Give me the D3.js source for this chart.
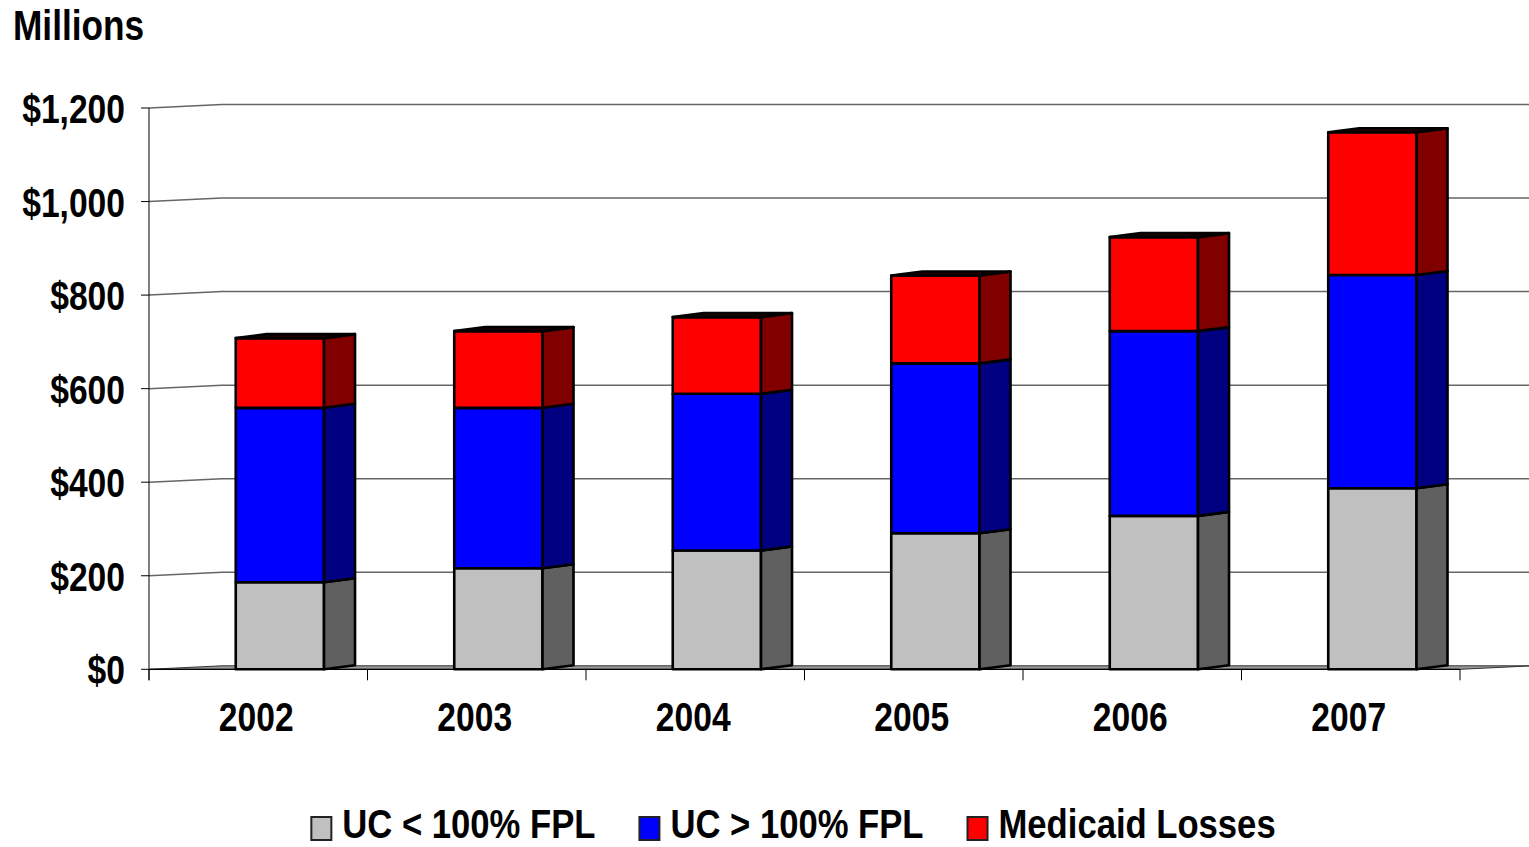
<!DOCTYPE html>
<html>
<head>
<meta charset="utf-8">
<script src="https://cdn.jsdelivr.net/npm/d3@7"></script>
<style>
  body { margin: 0; background: #fff; }
  text { font-family: "Liberation Sans", Arial, sans-serif; font-weight: bold; fill: #000; }
</style>
</head>
<body>
<svg id="chart" width="1529" height="847"></svg>
<script>
const years = ['2002', '2003', '2004', '2005', '2006', '2007'];
const ucBelow = [186, 216, 254, 291, 328, 387];
const ucAbove = [373, 343, 335, 363, 395, 456];
const medicaid = [149, 164, 164, 188, 201, 305];
const seriesNames = ['UC < 100% FPL', 'UC > 100% FPL', 'Medicaid Losses'];
const yTicks = [0, 200, 400, 600, 800, 1000, 1200];

const front = ['#c0c0c0', '#0000ff', '#ff0000'];
const side = ['#606060', '#000080', '#800000'];

const svg = d3.select('#chart');
const narrow = 0.82; // squeeze to look like Arial Narrow
const fontSize = 41;

// 3D offsets
const wallDx = 73, wallDy = -3.5;
const barDx = 31, barDy = -4;

const x = d3.scaleBand().domain(years).range([149, 1460]).padding(0);
const y = d3.scaleLinear().domain([0, 1200]).range([669.3, 108]);

function label(g, txt, px, py, anchor, size, sx) {
  return g.append('text')
    .attr('transform', `translate(${px},${py}) scale(${sx || narrow},1)`)
    .attr('text-anchor', anchor)
    .style('font-size', (size || fontSize) + 'px')
    .text(txt);
}

// floor
const x0 = x.range()[0], x1 = x.range()[1];
svg.append('path')
  .attr('d', `M${x0},${y(0)}L${x1},${y(0)}L${x1 + wallDx},${y(0) + wallDy}L${x0 + wallDx},${y(0) + wallDy}Z`)
  .attr('fill', '#9a9a9a')
  .attr('stroke', '#333')
  .attr('stroke-width', 1);

// gridlines
const grid = svg.append('g');
yTicks.forEach(t => {
  if (t === 0) return;
  grid.append('path')
    .attr('d', `M${x0},${y(t)}L${x0 + wallDx},${y(t) + wallDy}L1529,${y(t) + wallDy}`)
    .attr('fill', 'none')
    .attr('stroke', '#666')
    .attr('stroke-width', 1.5);
});

// axes
svg.append('line')
  .attr('x1', x0).attr('x2', x0)
  .attr('y1', y(1200)).attr('y2', y(0) + 11)
  .attr('stroke', '#000').attr('stroke-width', 1);
svg.append('line')
  .attr('x1', x0).attr('x2', x1)
  .attr('y1', y(0)).attr('y2', y(0))
  .attr('stroke', '#000').attr('stroke-width', 1.2);

yTicks.forEach(t => {
  svg.append('line')
    .attr('x1', x0 - 8).attr('x2', x0)
    .attr('y1', y(t)).attr('y2', y(t))
    .attr('stroke', '#000').attr('stroke-width', 1);
  label(svg, '$' + d3.format(',')(t), 125, y(t) + 15, 'end');
});

years.concat(['end']).forEach((yr, i) => {
  const px = x0 + i * x.bandwidth();
  svg.append('line')
    .attr('x1', px).attr('x2', px)
    .attr('y1', y(0)).attr('y2', y(0) + 11)
    .attr('stroke', '#000').attr('stroke-width', 1);
});

years.forEach(yr => {
  label(svg, yr, x(yr) + x.bandwidth() / 2 - 2, 731, 'middle');
});

label(svg, 'Millions', 13, 40, 'start', 43);

// stacked 3D bars
const rows = years.map((yr, i) => ({ year: yr, s0: ucBelow[i], s1: ucAbove[i], s2: medicaid[i] }));
const stack = d3.stack().keys(['s0', 's1', 's2'])(rows);

const barOff = 0.397, barW = 0.404;
const bars = svg.append('g')
  .attr('stroke', '#000')
  .attr('stroke-width', 2.6)
  .attr('stroke-linejoin', 'round');

rows.forEach((row, i) => {
  const bx0 = x(row.year) + x.bandwidth() * barOff;
  const bx1 = bx0 + x.bandwidth() * barW;
  stack.forEach((layer, k) => {
    const yb = y(layer[i][0]), yt = y(layer[i][1]);
    bars.append('rect')
      .attr('x', bx0).attr('y', yt)
      .attr('width', bx1 - bx0).attr('height', yb - yt)
      .attr('fill', front[k]);
    bars.append('path')
      .attr('d', `M${bx1},${yt}L${bx1 + barDx},${yt + barDy}L${bx1 + barDx},${yb + barDy}L${bx1},${yb}Z`)
      .attr('fill', side[k]);
    if (k === stack.length - 1) {
      bars.append('path')
        .attr('d', `M${bx0},${yt}L${bx1},${yt}L${bx1 + barDx},${yt + barDy}L${bx0 + barDx},${yt + barDy}Z`)
        .attr('fill', '#200000');
    }
  });
});

// legend
const legendScale = 0.845;
const legend = svg.append('g');
const items = seriesNames.map((name, k) => {
  const g = legend.append('g');
  g.append('rect')
    .attr('x', 0).attr('y', 817)
    .attr('width', 20).attr('height', 23)
    .attr('fill', front[k])
    .attr('stroke', '#222').attr('stroke-width', 2);
  const t = label(g, name, 31, 838, 'start', 41, legendScale);
  const w = 31 + t.node().getComputedTextLength() * legendScale;
  return { g, w };
});
const gap = 44;
const total = d3.sum(items, d => d.w) + gap * (items.length - 1);
let cx = 793.5 - total / 2;
items.forEach(it => {
  it.g.attr('transform', `translate(${cx},0)`);
  cx += it.w + gap;
});
</script>
</body>
</html>
